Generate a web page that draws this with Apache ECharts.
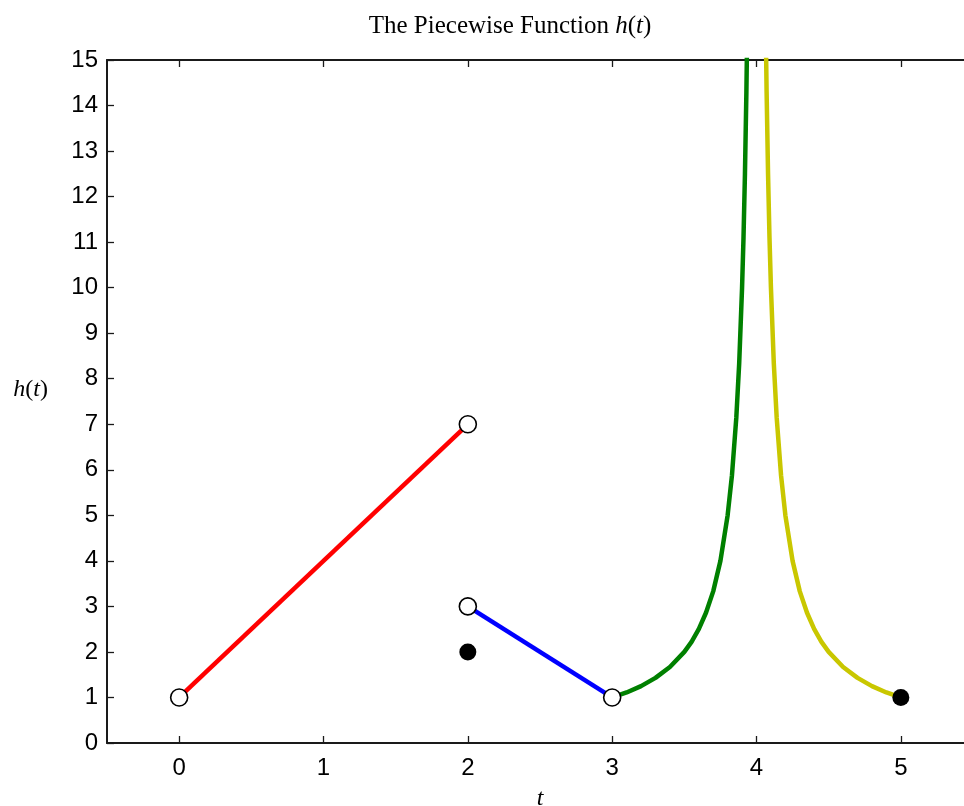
<!DOCTYPE html>
<html>
<head>
<meta charset="utf-8">
<script src="https://cdn.jsdelivr.net/npm/echarts@6/dist/echarts.min.js"></script>
<style>html,body{margin:0;padding:0;background:#fff;}#c{width:964px;height:806px;}</style>
</head>
<body>
<div id="c"></div>
<script>
// Data
const xTicks = [0, 1, 2, 3, 4, 5];
const redT = [0, 2];
const redH = [1, 7];
const blueT = [2, 3];
const blueH = [3, 1];
const greenT = [3, 3.1, 3.2, 3.3, 3.4, 3.5, 3.55, 3.6, 3.65, 3.7, 3.75, 3.8, 3.83, 3.86, 3.88, 3.9, 3.91, 3.92, 3.93, 3.94];
const greenH = [1, 1.11, 1.25, 1.43, 1.67, 2, 2.22, 2.5, 2.86, 3.33, 4, 5, 5.88, 7.14, 8.33, 10, 11.1, 12.5, 14.3, 16.7];
const yellowT = [4.06, 4.07, 4.08, 4.09, 4.1, 4.12, 4.14, 4.17, 4.2, 4.25, 4.3, 4.35, 4.4, 4.45, 4.5, 4.6, 4.7, 4.8, 4.9, 5];
const yellowH = [16.7, 14.3, 12.5, 11.1, 10, 8.33, 7.14, 5.88, 5, 4, 3.33, 2.86, 2.5, 2.22, 2, 1.67, 1.43, 1.25, 1.11, 1];
const openT = [0, 2, 2, 3];
const openH = [1, 7, 3, 1];
const filledT = [2, 5];
const filledH = [2, 1];

const pairs = (a, b) => a.map((v, i) => [v, b[i]]);

const chart = echarts.init(document.getElementById('c'), null, {renderer: 'canvas'});
const axisCol = '#1a1a1a';
const lineSeries = (t, h, color) => ({
  type: 'line', data: pairs(t, h), showSymbol: false, smooth: false, clip: true,
  lineStyle: {color: color, width: 4.5}, z: 2, silent: true
});

chart.setOption({
  animation: false,
  backgroundColor: '#fff',
  title: {
    text: '{n|The Piecewise Function }{i|h}{n|(}{i|t}{n|)}',
    left: 505, top: 9, textAlign: 'center',
    textStyle: {
      fontWeight: 'normal',
      rich: {
        n: {fontFamily: 'Liberation Serif', fontWeight: 'normal', fontSize: 25, color: '#000'},
        i: {fontFamily: 'Liberation Serif', fontWeight: 'normal', fontStyle: 'italic', fontSize: 25, color: '#000'}
      }
    }
  },
  grid: {left: 107, right: -9, top: 60, bottom: 63, containLabel: false, outerBoundsMode: 'none'},
  xAxis: [{
    type: 'value', min: -0.5, max: 5.5, position: 'bottom',
    axisLine: {show: true, onZero: false, lineStyle: {color: axisCol, width: 2}},
    axisTick: {show: true, inside: true, length: 7, customValues: xTicks, lineStyle: {color: axisCol, width: 1.3}},
    axisLabel: {customValues: xTicks, fontFamily: 'Liberation Sans', fontSize: 24, color: '#000', margin: 13},
    splitLine: {show: false},
    name: 't', nameLocation: 'middle', nameGap: 44,
    nameTextStyle: {fontFamily: 'Liberation Serif', fontStyle: 'italic', fontSize: 24, color: '#000'}
  }, {
    type: 'value', min: -0.5, max: 5.5, position: 'top',
    axisLine: {show: true, onZero: false, lineStyle: {color: axisCol, width: 2}},
    axisTick: {show: true, inside: true, length: 7, customValues: xTicks, lineStyle: {color: axisCol, width: 1.3}},
    axisLabel: {show: false},
    splitLine: {show: false}
  }],
  yAxis: {
    type: 'value', min: 0, max: 15, interval: 1,
    axisLine: {show: true, onZero: false, lineStyle: {color: axisCol, width: 2}},
    axisTick: {show: true, inside: true, length: 7, lineStyle: {color: axisCol, width: 1.3}},
    axisLabel: {fontFamily: 'Liberation Sans', fontSize: 24, color: '#000', margin: 9},
    splitLine: {show: false},
    name: '{i|h}{n|(}{i|t}{n|)}', nameLocation: 'middle', nameGap: 59, nameRotate: 0,
    nameTextStyle: {
      padding: [0, 0, 24, 0],
      rich: {
        n: {fontFamily: 'Liberation Serif', fontSize: 24, color: '#000'},
        i: {fontFamily: 'Liberation Serif', fontStyle: 'italic', fontSize: 24, color: '#000'}
      }
    }
  },
  series: [
    lineSeries(redT, redH, '#ff0000'),
    lineSeries(blueT, blueH, '#0000ff'),
    lineSeries(greenT, greenH, '#008000'),
    lineSeries(yellowT, yellowH, '#c9c700'),
    {type: 'scatter', data: pairs(openT, openH), symbol: 'circle', symbolSize: 17,
     itemStyle: {color: '#fff', borderColor: '#000', borderWidth: 1.6, opacity: 1}, z: 5, silent: true},
    {type: 'scatter', data: pairs(filledT, filledH), symbol: 'circle', symbolSize: 17,
     itemStyle: {color: '#000', opacity: 1}, z: 5, silent: true}
  ]
});
</script>
</body>
</html>
